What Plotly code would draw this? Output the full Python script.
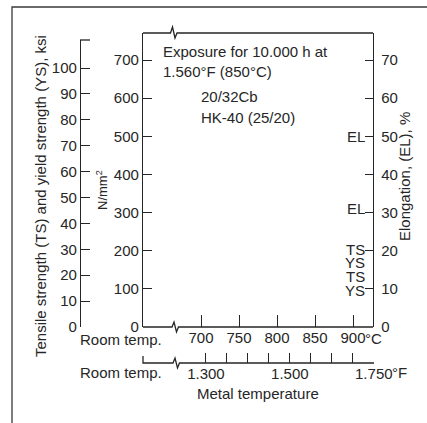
import plotly.graph_objects as go

W, H = 427, 423

# ---------------- data ----------------
ksi_ticks = [0, 10, 20, 30, 40, 50, 60, 70, 80, 90, 100]
nmm_ticks = [0, 100, 200, 300, 400, 500, 600, 700]
el_ticks = [0, 10, 20, 30, 40, 50, 60, 70]
c_ticks = [700, 750, 800, 850, 900]
c_labels = ["700", "750", "800", "850", "900"]
f_minor_ticks = [1300, 1350, 1400, 1450, 1500, 1550, 1600, 1650, 1700]
f_ticks = [1300, 1500, 1700]
f_labels = ["1.300", "1.500", "1.750"]

end_labels = ["EL", "EL", "TS", "YS", "TS", "YS"]
end_label_el = [50, 31, 20.3, 16.8, 13.2, 9.5]

notes = ["Exposure for 10.000 h at", "1.560°F (850°C)", "20/32Cb", "HK-40 (25/20)"]

# ---------------- geometry helpers ----------------
def px(x):
    return x / W

def py(y):
    return 1 - y / H

def path(points):
    return "M " + " L ".join(f"{px(x):.5f},{py(y):.5f}" for x, y in points)

BOX_L, BOX_R, BOX_T, BOX_B = 143, 373, 33, 327
FONT = "Liberation Sans, Arial, sans-serif"
INK = "#262626"

fig = go.Figure()
# empty traces to register all axes
fig.add_trace(go.Scatter(x=[], y=[], xaxis="x", yaxis="y", showlegend=False))
fig.add_trace(go.Scatter(x=[], y=[], xaxis="x", yaxis="y2", showlegend=False))
fig.add_trace(go.Scatter(x=[], y=[], xaxis="x", yaxis="y3", showlegend=False))
fig.add_trace(go.Scatter(x=[], y=[], xaxis="x2", yaxis="y", showlegend=False))

tickfont = dict(family=FONT, size=15, color=INK)
common = dict(showgrid=False, zeroline=False, automargin=False, tickfont=tickfont,
              tickcolor=INK, tickwidth=1.3, linecolor=INK, linewidth=1.3)

# pixel scale: N/mm2 0 at 327, 700 at 60
nmm_top = 700 * (BOX_B - BOX_T) / (BOX_B - 60)
# ksi 0 at 327, 100 at 68 ; axis line top at y=40
ksi_px = (BOX_B - 68) / 100
ksi_top = (BOX_B - 40) / ksi_px
# EL 0 at 327, 70 at 60
el_top = 70 * (BOX_B - BOX_T) / (BOX_B - 60)
# degC 700 at 201, 900 at 353
c_px = (353 - 201) / 200
c_lo = 700 - (201 - BOX_L) / c_px
c_hi = 700 + (BOX_R - 201) / c_px

fig.update_layout(
    width=W, height=H, template="none",
    margin=dict(l=0, r=0, t=0, b=0),
    paper_bgcolor="white", plot_bgcolor="rgba(0,0,0,0)",
    font=dict(family=FONT, size=15, color=INK),
    showlegend=False,
    xaxis=dict(domain=[px(BOX_L), px(BOX_R)], range=[c_lo, c_hi], anchor="y",
               tickvals=c_ticks, ticktext=c_labels, ticks="inside", ticklen=12,
               showline=False, **common),
    xaxis2=dict(domain=[px(BOX_L), px(374)], range=[1150, 1700.5], anchor="free",
                position=py(363), side="bottom",
                tickvals=f_ticks, ticktext=f_labels, ticks="inside", ticklen=10,
                minor=dict(tickvals=f_minor_ticks, ticks="inside", ticklen=10,
                           tickcolor=INK, tickwidth=1.3, showgrid=False),
                showline=False, **common),
    yaxis=dict(domain=[py(BOX_B), py(BOX_T)], range=[0, nmm_top], anchor="x",
               tickvals=nmm_ticks, ticks="inside", ticklen=9, showline=True, **common),
    yaxis2=dict(domain=[py(BOX_B), py(40)], range=[0, ksi_top], anchor="free",
                position=px(80), side="left", tickvals=ksi_ticks, ticks="inside",
                ticklen=9, showline=True, **common),
    yaxis3=dict(domain=[py(BOX_B), py(BOX_T)], range=[0, el_top], anchor="x",
                overlaying="y", side="right", tickvals=el_ticks, ticks="inside",
                ticklen=8, showline=True, ticklabelstandoff=4, **common),
)

line = dict(color=INK, width=1.3)
shapes = [
    # outer frame
    dict(type="path", xref="paper", yref="paper", path=path([(12, 424), (12, 7), (427, 7)]),
         line=dict(color="#3a3a3a", width=1.3)),
    # box top with break
    dict(type="path", xref="paper", yref="paper",
         path=path([(BOX_L, BOX_T), (170.5, BOX_T), (172.5, 27), (175, 38), (177, BOX_T), (BOX_R, BOX_T)]),
         line=line),
    # box bottom (degC axis) with break
    dict(type="path", xref="paper", yref="paper",
         path=path([(BOX_L, BOX_B), (172, BOX_B), (174, 322), (176.5, 332), (178.5, BOX_B), (BOX_R, BOX_B)]),
         line=line),
    # degF axis line with break
    dict(type="path", xref="paper", yref="paper",
         path=path([(BOX_L, 356), (BOX_L, 363), (173, 363), (175, 358), (177.5, 368), (179.5, 363), (374, 363)]),
         line=line),
    # ksi axis top stub
    dict(type="path", xref="paper", yref="paper", path=path([(80, 40), (90, 40)]), line=line),
]
fig.update_layout(shapes=shapes)

ann = []
# axis titles
ann.append(dict(text="Tensile strength (TS) and yield strength (YS), ksi", x=px(40), y=py(196),
                xref="paper", yref="paper", textangle=-90, showarrow=False,
                font=dict(size=15), xanchor="center", yanchor="middle"))
ann.append(dict(text="N/mm<sup>2</sup>", x=px(102), y=py(190), xref="paper", yref="paper",
                textangle=-90, showarrow=False, font=dict(size=13),
                xanchor="center", yanchor="middle"))
ann.append(dict(text="Elongation, (EL), %", x=px(404), y=py(177), xref="paper", yref="paper",
                textangle=-90, showarrow=False, font=dict(size=15),
                xanchor="center", yanchor="middle"))
# notes
note_pos = [(161, 52), (161, 71), (199, 96), (199, 118)]
for t, (x, y) in zip(notes, note_pos):
    ann.append(dict(text=t, x=px(x), y=py(y), xref="paper", yref="paper", showarrow=False,
                    xanchor="left", yanchor="middle", font=dict(size=15)))
# end-of-curve labels on elongation axis
for t, v in zip(end_labels, end_label_el):
    ann.append(dict(text=t, x=px(367), y=v, xref="paper", yref="y3", showarrow=False,
                    xanchor="right", yanchor="middle", font=dict(size=15)))
# bottom labels
ann.append(dict(text="Room temp.", x=px(121), y=py(339), xref="paper", yref="paper",
                showarrow=False, xanchor="center", yanchor="middle", font=dict(size=15)))
ann.append(dict(text="°C", x=900, xshift=10, y=py(338), xref="x", yref="paper",
                showarrow=False, xanchor="left", yanchor="middle", font=dict(size=15)))
ann.append(dict(text="Room temp.", x=px(121), y=py(372), xref="paper", yref="paper",
                showarrow=False, xanchor="center", yanchor="middle", font=dict(size=15)))
ann.append(dict(text="°F", x=1700, xshift=16, y=py(372), xref="x2", yref="paper",
                showarrow=False, xanchor="left", yanchor="middle", font=dict(size=15)))
ann.append(dict(text="Metal temperature", x=px(258), y=py(393), xref="paper", yref="paper",
                showarrow=False, xanchor="center", yanchor="middle", font=dict(size=15)))
for a in ann:
    a.setdefault("font", {})
    a["font"].update(family=FONT, color=INK)
fig.update_layout(annotations=ann)

fig.write_html("out.html", config={"displayModeBar": False},
               post_script="document.body.style.margin='0';document.body.style.overflow='hidden';")
